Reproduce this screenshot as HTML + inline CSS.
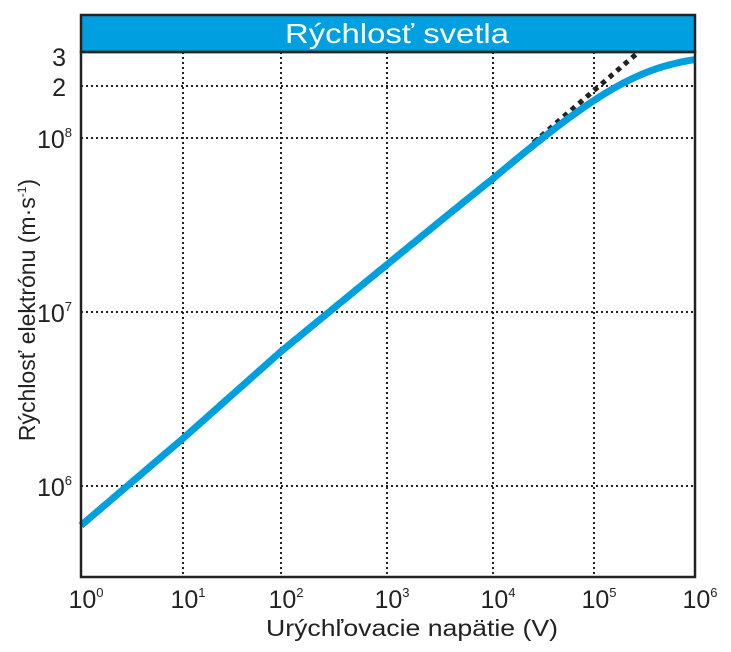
<!DOCTYPE html>
<html><head><meta charset="utf-8"><style>
body{margin:0;background:#fff;width:731px;height:647px;overflow:hidden;font-family:"Liberation Sans",Arial,sans-serif}
</style></head><body>
<svg id="s" width="731" height="647" xmlns="http://www.w3.org/2000/svg" font-family="Liberation Sans, Arial, sans-serif">
<rect x="81" y="15" width="614" height="37" fill="#009fe0" stroke="#222" stroke-width="2.5"/>
<text x="397" y="43" text-anchor="middle" font-size="28" fill="#fff" textLength="224" lengthAdjust="spacingAndGlyphs">Rýchlosť svetla</text>
<g stroke="#222" stroke-width="2" stroke-dasharray="2,3">
<line x1="183" y1="52" x2="183" y2="577"/><line x1="281" y1="52" x2="281" y2="577"/>
<line x1="387" y1="52" x2="387" y2="577"/><line x1="493" y1="52" x2="493" y2="577"/>
<line x1="594" y1="52" x2="594" y2="577"/>
<line x1="81" y1="86" x2="695" y2="86"/><line x1="81" y1="138" x2="695" y2="138"/>
<line x1="81" y1="312" x2="695" y2="312"/><line x1="81" y1="486" x2="695" y2="486"/>
</g>
<path id="cl" fill="none" stroke="#222" stroke-width="5" stroke-dasharray="5,5"/>
<path id="rel" fill="none" stroke="#009fe0" stroke-width="7"/>
<rect x="81" y="52" width="614" height="525" fill="none" stroke="#222" stroke-width="2.5"/>
<g font-size="25" fill="#222" text-anchor="end">
<text x="66" y="66">3</text><text x="66" y="96">2</text>
<text x="72" y="148">10<tspan font-size="13" dy="-11">8</tspan></text>
<text x="72" y="322">10<tspan font-size="13" dy="-11">7</tspan></text>
<text x="72" y="496">10<tspan font-size="13" dy="-11">6</tspan></text>
</g>
<g font-size="25" fill="#222" text-anchor="middle">
<text x="86" y="608">10<tspan font-size="13" dy="-11">0</tspan></text>
<text x="188" y="608">10<tspan font-size="13" dy="-11">1</tspan></text>
<text x="286" y="608">10<tspan font-size="13" dy="-11">2</tspan></text>
<text x="392" y="608">10<tspan font-size="13" dy="-11">3</tspan></text>
<text x="498" y="608">10<tspan font-size="13" dy="-11">4</tspan></text>
<text x="599" y="608">10<tspan font-size="13" dy="-11">5</tspan></text>
<text x="700" y="608">10<tspan font-size="13" dy="-11">6</tspan></text>
<text x="412" y="636" font-size="23" textLength="292" lengthAdjust="spacingAndGlyphs">Urýchľovacie napätie (V)</text>
</g>
<text transform="translate(35,310) rotate(-90)" text-anchor="middle" font-size="23" fill="#222">Rýchlosť elektrónu (m·s<tspan font-size="12" dy="-9">-1</tspan><tspan dy="9">)</tspan></text>
</svg>
<script>
var gx=[81,183,281,387,493,594,695];
function X(lv){var i=Math.min(5,Math.floor(lv));return gx[i]+(lv-i)*(gx[i+1]-gx[i]);}
function Y(v){return 486-(Math.log10(v)-6)*174;}
var c=2.998e8,r="",cl="";
for(var lv=0;lv<=6.0001;lv+=0.02){var V=Math.pow(10,lv);var g=1+V/511000;var v=c*Math.sqrt(1-1/(g*g));
r+=(r?"L":"M")+X(lv).toFixed(1)+","+Y(v).toFixed(1);}
for(var lv=4.4;lv<=5.45;lv+=0.02){var V=Math.pow(10,lv);var v=5.93e5*Math.sqrt(V);var y=Y(v);if(y<53)break;
cl+=(cl?"L":"M")+X(lv).toFixed(1)+","+y.toFixed(1);}
document.getElementById("rel").setAttribute("d",r);
document.getElementById("cl").setAttribute("d",cl);
</script>
</body></html>
